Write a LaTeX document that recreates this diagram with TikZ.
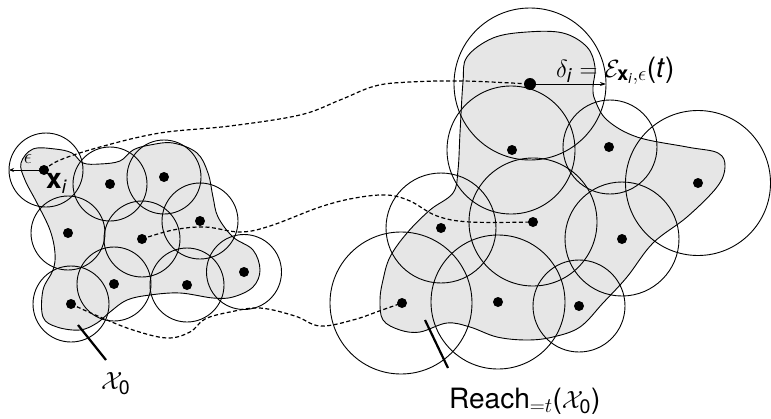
\documentclass[tikz,border=0pt]{standalone}
\usepackage{amsmath}
\usepackage{fontspec}
\setmainfont{TeX Gyre Heros}
\usetikzlibrary{arrows.meta}
\definecolor{blobgray}{HTML}{E6E6E6}
\begin{document}
\begin{tikzpicture}[x=1pt,y=-1pt,
  ball/.style={draw=black,line width=0.9pt},
  dot/.style={circle,fill=black,inner sep=0pt,minimum size=10pt},
  bigdot/.style={circle,fill=black,inner sep=0pt,minimum size=12pt},
  traj/.style={line width=1.2pt,dash pattern=on 4pt off 2.5pt},
  blob/.style={fill=blobgray,draw=black,line width=0.9pt},
  leader/.style={line width=2.2pt},
  lbl/.style={inner sep=0pt,font=\fontsize{28}{32}\selectfont}]
\useasboundingbox (0,0) rectangle (771,418);
% blobs
\draw[blob] plot[smooth cycle,tension=0.6] coordinates {(21,163) (33,149) (55,149) (72,153) (83,163) (100,164) (120,161) (133,150) (150,145) (173,143) (197,153) (208,173) (213,197) (218,217) (233,237) (253,250) (260,270) (253,287) (233,297) (213,298) (180,293) (150,295) (127,300) (110,312) (97,323) (80,330) (57,327) (43,317) (43,290) (53,270) (55,253) (50,230) (37,203) (25,180)};
\draw[blob] plot[smooth cycle,tension=0.6] coordinates {(463,82) (467,57) (493,38) (527,32) (563,33) (587,47) (595,67) (593,87) (595,100) (607,120) (637,137) (687,147) (718,153) (725,167) (717,187) (687,217) (653,243) (627,277) (603,303) (580,327) (553,337) (527,340) (497,337) (470,327) (447,323) (420,332) (400,330) (383,320) (380,300) (383,280) (390,257) (407,233) (430,210) (453,193) (458,170) (460,133)};
% left points
\node[dot] (xi) at (44,170) {};
\node[dot] (l2) at (110,184) {};
\node[dot] (l3) at (164,177) {};
\node[dot] (l4) at (200,221) {};
\node[dot] (l5) at (68,233) {};
\node[dot] (l6) at (142,239) {};
\node[dot] (l7) at (244,272) {};
\node[dot] (l8) at (114,284) {};
\node[dot] (l9) at (187,285) {};
\node[dot] (l10) at (71,304) {};
% right points
\node[bigdot] (d) at (530,84) {};
\node[dot] (r2) at (512,150) {};
\node[dot] (r3) at (609,147) {};
\node[dot] (r4) at (698,183) {};
\node[dot] (r5) at (533,222) {};
\node[dot] (r6) at (441,228) {};
\node[dot] (r7) at (622,239) {};
\node[dot] (r8) at (402,303) {};
\node[dot] (r9) at (498,302) {};
\node[dot] (r10) at (579,306) {};
% left balls
\draw[ball] (46,170) circle (37);
\draw[ball] (110,184) circle (37);
\draw[ball] (164,177) circle (37);
\draw[ball] (200,221) circle (38);
\draw[ball] (68,233) circle (37);
\draw[ball] (142,239) circle (38);
\draw[ball] (244,272) circle (37.5);
\draw[ball] (114,284) circle (37);
\draw[ball] (187,285) circle (37);
\draw[ball] (71,304) circle (38);
% right balls
\draw[ball] (530,84) circle (76);
\draw[ball] (511,150) circle (64);
\draw[ball] (610,147) circle (47);
\draw[ball] (698,183) circle (72.5);
\draw[ball] (533,222) circle (64);
\draw[ball] (441,228) circle (55);
\draw[ball] (622,239) circle (57);
\draw[ball] (401,303) circle (71);
\draw[ball] (498,302) circle (67);
\draw[ball] (579,306) circle (46);
% trajectories
\draw[traj] plot[smooth,tension=0.6] coordinates {(xi.center) (60,160) (100,147) (160,133) (230,126) (300,115) (340,100) (375,86) (410,82) (463,81) (d.center)};
\draw[traj] plot[smooth,tension=0.6] coordinates {(l6.center) (173,230) (205,227) (240,232) (270,226) (320,207) (355,198) (387,195) (410,201) (437,216) (470,222) (r5.center)};
\draw[traj] plot[smooth,tension=0.6] coordinates {(l10.center) (100,317) (133,330) (167,338) (190,332) (205,319) (230,312) (260,308) (295,316) (320,326) (353,320) (382,310) (r8.center)};
% epsilon arrow
\coordinate (eL) at (9,170);
\draw[{Stealth[length=5pt,width=4pt]}-{Stealth[length=5pt,width=4pt]},line width=0.9pt] (eL) -- (xi.center);
\node[inner sep=0pt,font=\fontsize{22}{26}\selectfont] (eps) at (28,159) {$\epsilon$};
\node[lbl,anchor=base west] (xil) at (46,188) {\textbf{x}\textit{\fontsize{19}{22}\selectfont\raisebox{-5pt}{i}}};
% delta arrow
\coordinate (dR) at (606,84);
\draw[-{Stealth[length=6pt,width=4pt]},line width=0.9pt] (d.center) -- (dR);
\node[lbl,anchor=base west] (dl) at (556,77) {$\delta_{\text{\textit{i}}} = \mathcal{E}_{\text{\textbf{x}}_{\text{\textit{i}}},\epsilon}$(\textit{t})};
% leaders and set labels
\coordinate (a1) at (78,325);
\coordinate (a2) at (106,360);
\draw[leader] (a1) -- (a2);
\node[lbl,anchor=base west] (X0) at (101,389) {$\mathcal{X}_{\text{0}}$};
\coordinate (b1) at (425,320);
\coordinate (b2) at (448,368);
\draw[leader] (b1) -- (b2);
\node[lbl,anchor=base west] (R) at (449,408) {Reach$_{=t}$($\mathcal{X}_{\text{0}}$)};
\end{tikzpicture}
\end{document}
